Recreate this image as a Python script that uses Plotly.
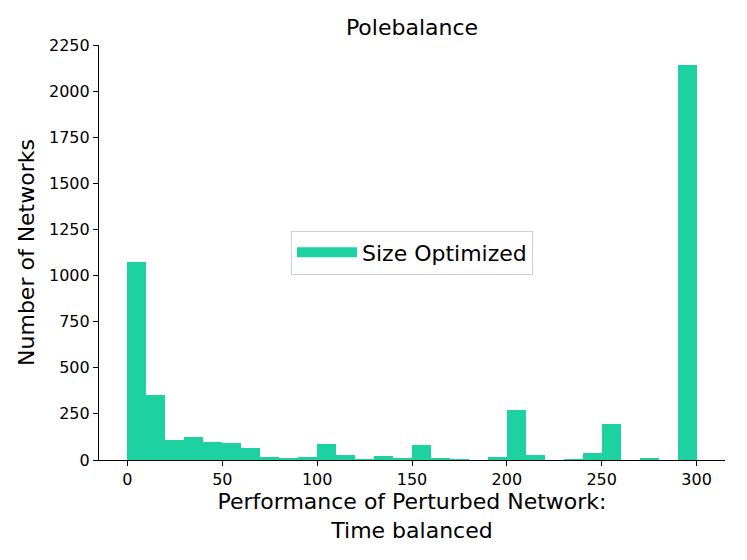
import plotly.graph_objects as go

# Histogram data (bins of width 10 from 0 to 300)
bin_left = [0, 10, 20, 30, 40, 50, 60, 70, 80, 90,
            100, 110, 120, 130, 140, 150, 160, 170, 180, 190,
            200, 210, 220, 230, 240, 250, 260, 270, 280, 290]
counts = [1075, 350, 110, 125, 100, 90, 65, 15, 10, 18,
          85, 25, 5, 20, 11, 80, 11, 3, 0, 16,
          270, 29, 0, 3, 40, 197, 0, 7, 0, 2141]
bin_width = 10
series_name = "Size Optimized"
x_ticks = [0, 50, 100, 150, 200, 250, 300]
y_ticks = [0, 250, 500, 750, 1000, 1250, 1500, 1750, 2000, 2250]

color = "#1dd1a1"
font = "DejaVu Sans, Liberation Sans, sans-serif"

# the page body has an 8px margin, so the figure is sized/offset to compensate
W, H = 739, 552

fig = go.Figure()
fig.add_trace(go.Bar(
    x=bin_left, y=counts, width=[bin_width] * len(bin_left), offset=0,
    marker=dict(color=color, line=dict(width=0)),
    name=series_name, showlegend=False,
))
# legend entry drawn as a wide patch
fig.add_trace(go.Scatter(
    x=[None], y=[None], mode="lines", name=series_name,
    line=dict(color=color, width=16), showlegend=True,
))

fig.update_layout(
    width=W, height=H,
    margin=dict(l=91, r=22, t=37, b=100, autoexpand=False),
    plot_bgcolor="white", paper_bgcolor="white",
    font=dict(family=font, color="black"),
    title=dict(text="Polebalance", x=0.5, xanchor="center", xref="paper",
               y=1 - 19 / H, yanchor="middle", yref="container",
               font=dict(size=22, family=font, color="black")),
    bargap=0,
    legend=dict(x=0.5, y=0.5, xanchor="center", yanchor="middle",
                bgcolor="white", bordercolor="#d0d0d0", borderwidth=1,
                font=dict(size=22, family=font), itemwidth=60),
    xaxis=dict(range=[-15, 315], tickvals=x_ticks, showgrid=False, zeroline=False,
               showline=True, linecolor="black", linewidth=1.2, automargin=False,
               ticks="outside", ticklen=5, tickwidth=1.2, tickcolor="black",
               tickfont=dict(size=16, family=font),
               title=dict(text="Performance of Perturbed Network:<br>Time balanced",
                          font=dict(size=22, family=font), standoff=4)),
    yaxis=dict(range=[0, 2250], tickvals=y_ticks, showgrid=False, zeroline=False,
               showline=True, linecolor="black", linewidth=1.2, automargin=False,
               ticks="outside", ticklen=5, tickwidth=1.2, tickcolor="black",
               tickfont=dict(size=16, family=font),
               title=dict(text="Number of Networks",
                          font=dict(size=22, family=font), standoff=8)),
)

fig.write_html("out.html")
